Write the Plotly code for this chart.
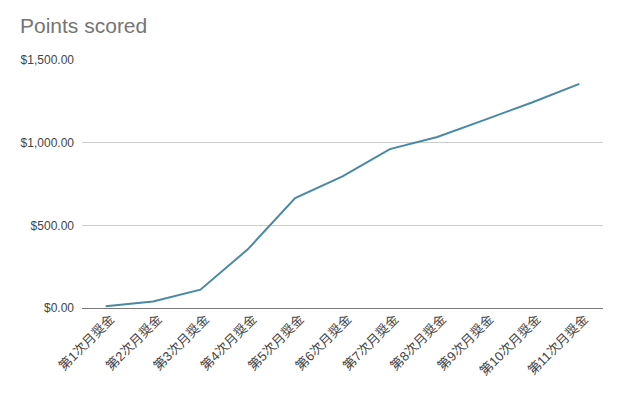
import plotly.graph_objects as go

categories = ["第1次月奨金", "第2次月奨金", "第3次月奨金", "第4次月奨金", "第5次月奨金",
              "第6次月奨金", "第7次月奨金", "第8次月奨金", "第9次月奨金", "第10次月奨金", "第11次月奨金"]
points = [10, 40, 111, 355, 665, 796, 961, 1034, 1138, 1243, 1356]
y_ticks = [0, 500, 1000, 1500]

fig = go.Figure()
fig.add_trace(go.Scatter(
    x=categories, y=points, mode="lines",
    line=dict(color="#4a89a3", width=2),
))

fig.update_layout(
    width=640, height=394,
    margin=dict(l=82, r=37, t=60, b=86, autoexpand=False),
    paper_bgcolor="white", plot_bgcolor="white",
    showlegend=False,
    title=dict(text="Points scored", x=20/640, xref="container", xanchor="left",
               y=1 - 18/394, yref="container", yanchor="top",
               font=dict(family="Arial, Liberation Sans, sans-serif", size=21, color="#757575")),
    font=dict(family="Arial, Liberation Sans, sans-serif", size=12, color="#444444"),
)

fig.update_xaxes(
    type="category", range=[-0.5, len(categories) - 0.5],
    tickangle=-45, showgrid=False, showline=False, zeroline=False,
    tickfont=dict(family="Arial, Noto Sans CJK JP, sans-serif", size=13, color="#444444"),
    ticks="", fixedrange=True, automargin=False, ticklabelshift=5,
)
fig.update_yaxes(
    range=[0, 1500], tickvals=y_ticks, tickformat="$,.2f",
    showgrid=True, gridcolor="#cccccc", gridwidth=1,
    zeroline=True, zerolinecolor="#7a7a7a", zerolinewidth=1,
    showline=False, ticks="", ticklabelstandoff=7, automargin=False,
    tickfont=dict(family="Arial, Liberation Sans, sans-serif", size=12, color="#444444"),
)

fig.write_html("out.html", config={"displayModeBar": False},
               post_script="document.body.style.margin='0';")
